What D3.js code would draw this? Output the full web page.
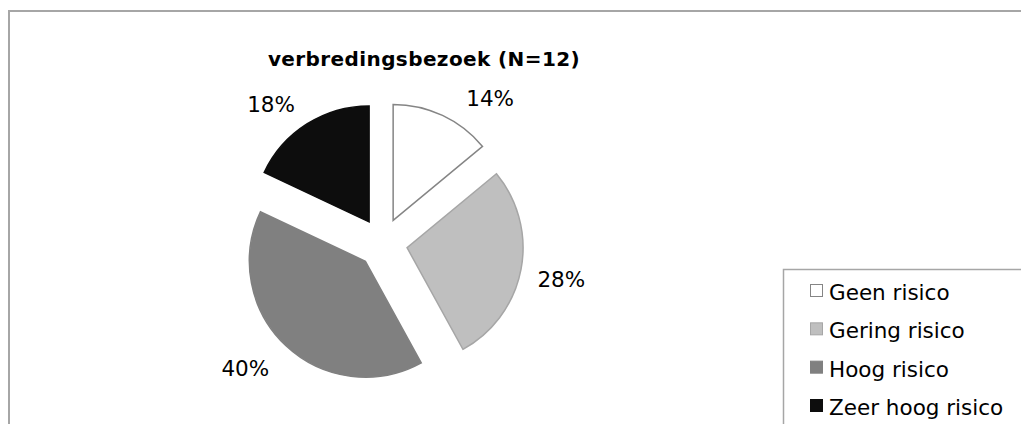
<!DOCTYPE html>
<html>
<head>
<meta charset="utf-8">
<script src="https://cdn.jsdelivr.net/npm/d3@7/dist/d3.min.js"></script>
<style>
  html, body { margin: 0; padding: 0; background: #fff; }
  svg { display: block; font-family: "DejaVu Sans", Verdana, sans-serif; }
</style>
</head>
<body>
<svg id="chart" width="1021" height="424"></svg>
<script>
// ---- data ----
const title = "verbredingsbezoek (N=12)";
const categories = ["Geen risico", "Gering risico", "Hoog risico", "Zeer hoog risico"];
const values = [14, 28, 40, 18];
const labels = ["14%", "28%", "40%", "18%"];

// ---- styles ----
const fills = ["#ffffff", "#bfbfbf", "#808080", "#0d0d0d"];
const strokes = ["#858585", "#a6a6a6", "#808080", "#0d0d0d"];

const W = 1021, H = 424;
const cx = 382.5, cy = 243, R = 116, explode = 25;
// label layout: radius of label ring and small nudges to mimic reference placement
const labelRadius = 180;
const labelNudge = [[31, 26], [2, 10], [-14, 2], [-15, 21]];

const svg = d3.select("#chart");

// outer frame
svg.append("rect")
  .attr("x", 9).attr("y", 11)
  .attr("width", W + 20).attr("height", H + 20)
  .attr("fill", "none").attr("stroke", "#a6a6a6").attr("stroke-width", 2);

// title
svg.append("text")
  .attr("x", 424).attr("y", 66)
  .attr("text-anchor", "middle")
  .attr("font-weight", "bold")
  .attr("font-size", "20px")
  .attr("letter-spacing", "0.4px")
  .attr("fill", "#000")
  .text(title);

const pie = d3.pie().sort(null).value(d => d)(values);
const arc = d3.arc().innerRadius(0).outerRadius(R);

const g = svg.append("g").attr("transform", `translate(${cx},${cy})`);

g.selectAll("path.slice")
  .data(pie)
  .join("path")
  .attr("class", "slice")
  .attr("d", arc)
  .attr("transform", d => {
    const a = (d.startAngle + d.endAngle) / 2;
    return `translate(${explode * Math.sin(a)},${-explode * Math.cos(a)})`;
  })
  .attr("fill", (d, i) => fills[i])
  .attr("stroke", (d, i) => strokes[i])
  .attr("stroke-width", 1.5)
  .attr("stroke-linejoin", "miter");

g.selectAll("text.lbl")
  .data(pie)
  .join("text")
  .attr("class", "lbl")
  .attr("x", (d, i) => labelRadius * Math.sin((d.startAngle + d.endAngle) / 2) + labelNudge[i][0])
  .attr("y", (d, i) => -labelRadius * Math.cos((d.startAngle + d.endAngle) / 2) + labelNudge[i][1])
  .attr("text-anchor", "middle")
  .attr("font-size", "21.5px")
  .attr("fill", "#000")
  .text((d, i) => labels[i]);

// legend
const lg = svg.append("g");
lg.append("rect")
  .attr("x", 783.5).attr("y", 269.5)
  .attr("width", 300).attr("height", 200)
  .attr("fill", "#fff").attr("stroke", "#a6a6a6").attr("stroke-width", 1.5);

const ly = d3.scalePoint().domain(categories).range([300, 415]);
const items = lg.selectAll("g.item").data(categories).join("g").attr("class", "item");
items.append("rect")
  .attr("x", 810.5).attr("y", d => ly(d) - 15.5)
  .attr("width", 12).attr("height", 12)
  .attr("fill", (d, i) => fills[i])
  .attr("stroke", (d, i) => strokes[i])
  .attr("stroke-width", 1);
items.append("text")
  .attr("x", 829).attr("y", d => ly(d))
  .attr("font-size", "21.5px")
  .attr("fill", "#000")
  .text(d => d);
</script>
</body>
</html>
